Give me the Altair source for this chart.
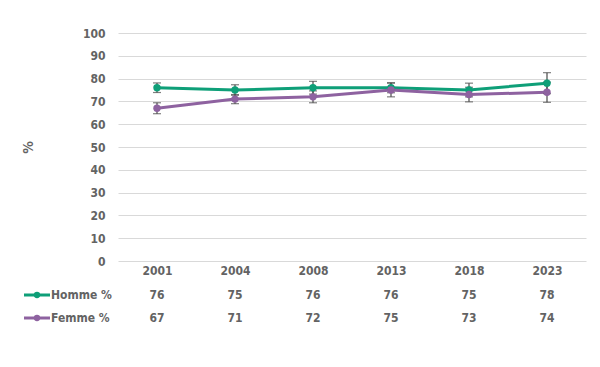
import altair as alt
import pandas as pd

years = ["2001", "2004", "2008", "2013", "2018", "2023"]
homme = [76, 75, 76, 76, 75, 78]
femme = [67, 71, 72, 75, 73, 74]
homme_err = [2.1, 2.3, 2.8, 2.2, 3.0, 4.6]
femme_err = [2.4, 2.0, 2.6, 3.0, 3.2, 4.4]
series = ["Homme %", "Femme %"]
colors = ["#0e9f78", "#8e62a0"]

FONT = "Liberation Sans Narrow, DejaVu Sans Condensed, Roboto Condensed, sans-serif"
TXT = "#636363"
FS = 12
ERRC = "#484848"

rows = []
for s, vals, errs in [(series[0], homme, homme_err), (series[1], femme, femme_err)]:
    for y, v, e in zip(years, vals, errs):
        rows.append({"year": y, "serie": s, "value": v, "lo": v - e, "hi": v + e})
df = pd.DataFrame(rows)

xaxis = alt.Axis(title=None, labelAngle=0, domain=False, ticks=False, grid=False,
                 labelPadding=4, labelFont=FONT, labelFontSize=FS,
                 labelFontWeight="bold", labelColor=TXT)
xscale = alt.Scale(type="point", padding=0.5, domain=years)
yscale = alt.Scale(domain=[0, 100])
yaxis = alt.Axis(values=list(range(0, 101, 10)), title="%", domain=False, ticks=False,
                 labelPadding=13, labelFont=FONT, labelFontSize=FS, labelOverlap=False,
                 labelFontWeight="bold", labelColor=TXT,
                 gridColor="#d9d9d9", gridWidth=1,
                 titleFont=FONT, titleFontSize=14, titleFontWeight="bold",
                 titleColor=TXT, titleX=-83, titleY=114, titleAngle=-90)
cscale = alt.Scale(domain=series, range=colors)


def X():
    return alt.X("year:O", scale=xscale, axis=xaxis)


def Y(field):
    return alt.Y(field, scale=yscale, axis=yaxis)


base = alt.Chart(df)

lines = base.mark_line(strokeWidth=3).encode(
    x=X(), y=Y("value:Q"),
    color=alt.Color("serie:N", scale=cscale, legend=None),
)
points = base.mark_point(filled=True, size=55, opacity=1).encode(
    x=X(), y=Y("value:Q"),
    color=alt.Color("serie:N", scale=cscale, legend=None),
)
err = base.mark_rule(color=ERRC, strokeWidth=1.2).encode(
    x=X(), y=Y("lo:Q"), y2="hi:Q")
cap_lo = base.mark_tick(color=ERRC, thickness=1.2, size=8, orient="horizontal").encode(
    x=X(), y=Y("lo:Q"))
cap_hi = base.mark_tick(color=ERRC, thickness=1.2, size=8, orient="horizontal").encode(
    x=X(), y=Y("hi:Q"))

table_rows = []
for s, vals, ypix in [(series[0], homme, 262), (series[1], femme, 285)]:
    for y, v in zip(years, vals):
        table_rows.append({"year": y, "serie": s, "label": str(v), "ypix": ypix})
tdf = pd.DataFrame(table_rows)

table_text = alt.Chart(tdf).mark_text(font=FONT, fontSize=FS, fontWeight="bold",
                                      color=TXT, baseline="middle").encode(
    x=X(), y=alt.Y("ypix:Q", scale=None), text="label:N")

leg_df = pd.DataFrame({"serie": series, "ypix": [262, 285]})
leg_line = alt.Chart(leg_df).mark_rule(strokeWidth=3).encode(
    x=alt.value(-94), x2=alt.value(-68), y=alt.Y("ypix:Q", scale=None),
    color=alt.Color("serie:N", scale=cscale, legend=None))
leg_pt = alt.Chart(leg_df).mark_point(filled=True, size=40, opacity=1).encode(
    x=alt.value(-81), y=alt.Y("ypix:Q", scale=None),
    color=alt.Color("serie:N", scale=cscale, legend=None))
leg_txt = alt.Chart(leg_df).mark_text(font=FONT, fontSize=FS, fontWeight="bold",
                                      color=TXT, align="left", baseline="middle").encode(
    x=alt.value(-67), y=alt.Y("ypix:Q", scale=None), text="serie:N")

chart = alt.layer(lines, err, cap_lo, cap_hi, points, table_text, leg_line, leg_pt, leg_txt).properties(
    width=468, height=228,
    background="white",
    autosize=alt.AutoSizeParams(type="none"),
    padding={"left": 110, "top": 25, "right": 6, "bottom": 120},
).configure_view(strokeWidth=0, stroke="transparent")

chart.save("out.html", embed_options={"renderer": "svg", "actions": False})
